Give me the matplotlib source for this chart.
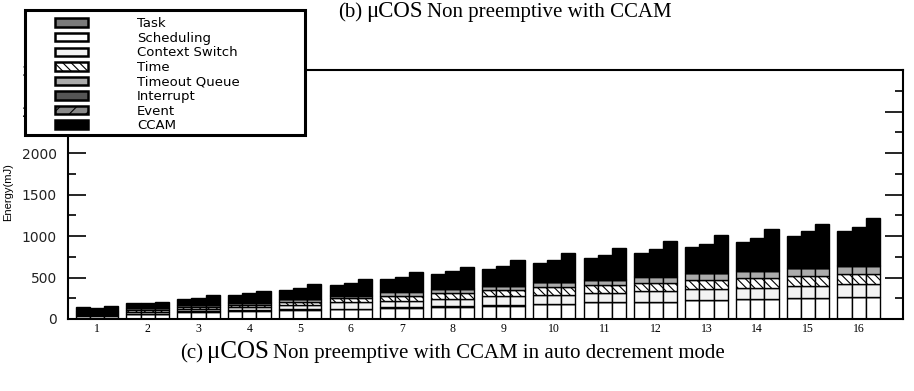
import matplotlib
matplotlib.use("Agg")
import matplotlib.pyplot as plt
import numpy as np
from matplotlib.patches import Rectangle, Patch

# energy per component (mJ), one value per group 1..16
groups = list(range(1, 17))
task = [40, 55, 88, 100, 112, 120, 137, 149, 161, 181, 201, 205, 225, 237, 249, 261]
scheduling = [4, 4, 4, 4, 4, 4, 4, 4, 4, 4, 4, 4, 4, 4, 4, 4]
context_switch = [11, 26, 23, 36, 49, 76, 80, 84, 108, 104, 112, 132, 132, 136, 148, 157]
time_ = [15, 20, 25, 30, 40, 50, 60, 72, 72, 92, 89, 97, 109, 121, 117, 116]
timeout_queue = [19, 24, 23, 25, 34, 33, 50, 55, 55, 63, 66, 74, 82, 82, 94, 103]
interrupt = [3, 3, 3, 3, 3, 3, 3, 3, 3, 3, 3, 3, 3, 3, 3, 3]
event = [3, 3, 3, 3, 3, 3, 3, 3, 3, 3, 3, 3, 3, 3, 3, 3]
# CCAM differs for the three bars of each group
ccam_a = [46, 54, 68, 89, 108, 124, 141, 168, 192, 221, 253, 273, 306, 338, 382, 417]
ccam_b = [34, 54, 84, 109, 128, 148, 173, 208, 233, 257, 289, 329, 350, 394, 438, 461]
ccam_c = [65, 73, 116, 142, 180, 191, 229, 257, 301, 341, 373, 422, 458, 494, 530, 573]

labels = ["Task", "Scheduling", "Context Switch", "Time", "Timeout Queue",
          "Interrupt", "Event", "CCAM"]
colors = ["white", "white", "#f3f3f3", "white", "#ababab", "#555555", "#8a8a8a", "black"]
hatches = [None, None, None, "\\\\\\\\", None, None, "//", None]

plt.rcParams["hatch.linewidth"] = 0.8
plt.rcParams["font.family"] = ["DejaVu Sans"]

fig = plt.figure(figsize=(9.14, 3.91), dpi=100)
ax = fig.add_axes([68 / 914, 72 / 391, 835 / 914, 249 / 391])

x = np.array(groups, dtype=float)
w = 0.28
base_layers = [task, scheduling, context_switch, time_, timeout_queue, interrupt, event]
for off, ccam in zip([-w, 0, w], [ccam_a, ccam_b, ccam_c]):
    bottom = np.zeros(len(groups))
    for vals, c, h in zip(base_layers + [ccam], colors, hatches):
        ax.bar(x + off, vals, w, bottom=bottom, color=c, edgecolor="black",
               linewidth=1.0, hatch=h)
        bottom += np.array(vals)

ax.set_xlim(0.43, 16.87)
ax.set_ylim(0, 3000)
ax.set_yticks(np.arange(0, 3001, 500))
ax.set_yticks(np.arange(250, 3000, 500), minor=True)
ax.tick_params(axis="y", which="major", direction="in", length=13, width=1.2,
               right=True, labelsize=10, labelcolor="#222222", pad=8)
ax.tick_params(axis="y", which="minor", direction="in", length=6, width=1.2, right=True)
ax.set_xticks(x)
ax.set_xticklabels([str(g) for g in groups], family="Liberation Serif", fontsize=8.5)
ax.tick_params(axis="x", length=0, pad=3)
for s in ax.spines.values():
    s.set_linewidth(1.5)

ax.set_ylabel("Energy(mJ)", fontsize=8, family="Liberation Sans")
ax.yaxis.set_label_coords(-0.066, 0.51)

# legend with a hand placed frame
fig.add_artist(Rectangle((25 / 914, 1 - 135 / 391), 280 / 914, 125 / 391,
                         transform=fig.transFigure, facecolor="white",
                         edgecolor="black", linewidth=2.2, zorder=4))
handles = [Patch(facecolor=c if c != "white" or i != 0 else "#7a7a7a",
                 edgecolor="black", linewidth=1.8, hatch=h)
           for i, (c, h) in enumerate(zip(colors, hatches))]
leg = fig.legend(handles, labels, loc="upper left",
                 bbox_to_anchor=(46 / 914, 1 - 8 / 391), frameon=False,
                 fontsize=9.5, handlelength=2.5, handleheight=0.6,
                 handletextpad=3.7, labelspacing=0.12, borderpad=0.2)
leg.set_zorder(6)


def rich_line(parts, cx, y):
    """Place text pieces of mixed size side by side, centred on cx."""
    r = fig.canvas.get_renderer()
    items = []
    for txt, size in parts:
        t = fig.text(0, y, txt, fontsize=size, family="Liberation Serif",
                     va="baseline", transform=None)
        items.append((t, t.get_window_extent(r).width, size))
    gap = 4
    total = sum(it[1] for it in items) + gap * (len(items) - 1)
    pos = cx - total / 2
    for t, wd, size in items:
        t.set_x(pos)
        pos += wd + gap


rich_line([("(b)", 15), ("\u03bcCOS", 16.5), ("Non preemptive with CCAM", 15)],
          505, 391 - 17)
rich_line([("(c)", 15), ("\u03bcCOS", 18),
           ("Non preemptive with CCAM in auto decrement mode", 15)],
          452, 391 - 358)

fig.savefig("out.png", dpi=100)
